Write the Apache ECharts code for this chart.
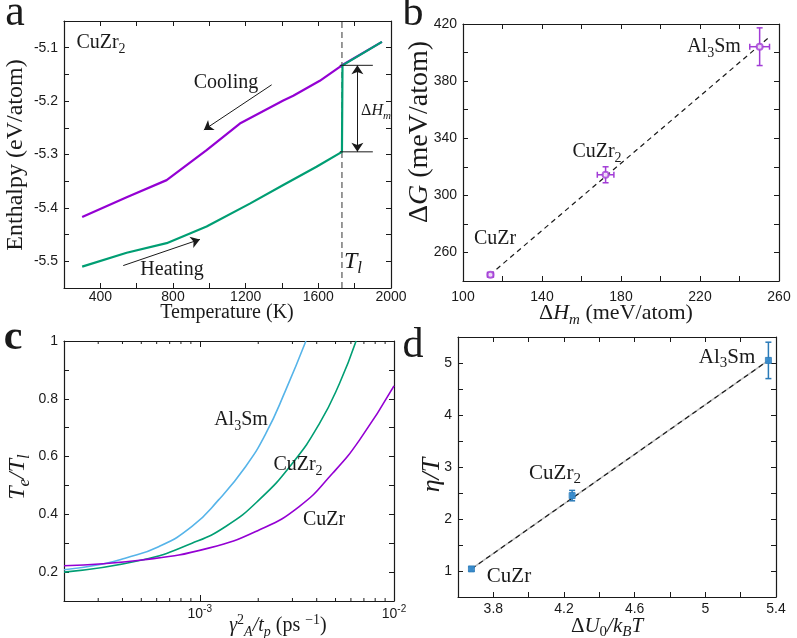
<!DOCTYPE html>
<html>
<head>
<meta charset="utf-8">
<script src="https://cdn.jsdelivr.net/npm/echarts@6/dist/echarts.min.js"></script>
<style>
  body { margin: 0; background: #fff; }
  #main { width: 797px; height: 638px; }
</style>
</head>
<body>
<div id="main"></div>
<script>
// ---- panel a: enthalpy of CuZr2 on cooling / heating
const coolT = [1950, 1730, 1608, 1462, 1407, 1168, 985, 765, 545, 300];
const coolH = [-5.089, -5.133, -5.162, -5.190, -5.199, -5.242, -5.292, -5.348, -5.380, -5.417];
const heatT = [300, 545, 765, 985, 1223, 1407, 1590, 1730, 1733, 1950];
const heatH = [-5.510, -5.484, -5.466, -5.435, -5.392, -5.357, -5.323, -5.295, -5.133, -5.089];
const meltT = 1730;          // T_l
const hLiquid = -5.133;
const hCrystal = -5.295;

// ---- panel b: dG vs dHm
const bX = [113.9, 172.2, 250.2];
const bY = [244.4, 314.4, 404.1];
const bXErr = [1.5, 4.2, 5.0];
const bYErr = [1.5, 5.6, 13.2];
const bFitX = [113.5, 255.3];
const bFitY = [244.2, 411.1];

// ---- panel c: Te/Tl vs gamma^2/tp (log x)
const alSmX = [2.0e-4, 3.13e-4, 4.13e-4, 6.14e-4, 9.12e-4, 1.25e-3, 1.72e-3, 2.19e-3, 2.77e-3, 3.52e-3];
const alSmY = [0.208, 0.227, 0.248, 0.288, 0.358, 0.45, 0.565, 0.68, 0.83, 1.0];
const cuZr2X = [2.0e-4, 5.04e-4, 9.12e-4, 1.36e-3, 2.02e-3, 3.00e-3, 4.13e-3, 5.24e-3, 6.38e-3];
const cuZr2Y = [0.2, 0.242, 0.3, 0.358, 0.45, 0.577, 0.714, 0.853, 1.0];
const cuZrX = [2.0e-4, 5.04e-4, 1.11e-3, 2.02e-3, 3.25e-3, 4.83e-3, 6.64e-3, 1.0e-2];
const cuZrY = [0.222, 0.242, 0.283, 0.346, 0.427, 0.542, 0.657, 0.845];
const cMinorTicks = [3e-4, 4e-4, 5e-4, 6e-4, 7e-4, 8e-4, 9e-4, 2e-3, 3e-3, 4e-3, 5e-3, 6e-3, 7e-3, 8e-3, 9e-3];

// ---- panel d: eta/T vs dU0/kBT
const dX = [3.676, 4.246, 5.357];
const dY = [1.04, 2.45, 5.05];
const dXErr = [0.008, 0.008, 0.008];
const dYErr = [0.04, 0.1, 0.35];
const dFitX = [3.676, 5.357];
const dFitY = [1.04, 5.05];

const PURPLE = '#9400d3', GREEN = '#009e73', SKY = '#56b4e9';
const BPURPLE = '#a23cd6', DBLUE = '#2a7ab8';
const INK = '#1a1a1a';
const SERIF = 'Liberation Serif', SANS = 'Liberation Sans';

const zip = (xs, ys) => xs.map((x, i) => [x, ys[i]]);

function axes(g, dir, min, max, interval, fmt, type, margin) {
  const common = {
    gridIndex: g, type: type || 'value', min: min, max: max,
    axisLine: {show: true, onZero: false, lineStyle: {color: INK, width: 1.2}},
    axisTick: {show: true, inside: true, length: 5, lineStyle: {color: INK, width: 1}},
    splitLine: {show: false}
  };
  if (interval) common.interval = interval;
  if (type === 'log') common.logBase = 10;
  const main = Object.assign({}, common, {
    position: dir === 'x' ? 'bottom' : 'left',
    axisLabel: {
      show: true, formatter: fmt, color: INK, fontFamily: SANS, fontSize: 14,
      margin: margin != null ? margin : (dir === 'x' ? 5 : 6), hideOverlap: false,
      showMinLabel: type !== 'log',
      rich: {
        b: {fontFamily: SANS, fontSize: 14, lineHeight: 20, color: INK},
        sp: {fontFamily: SANS, fontSize: 10, lineHeight: 10, verticalAlign: 'top', color: INK}
      }
    }
  });
  if (type === 'log') main.axisTick = Object.assign({}, common.axisTick, {length: 6});
  const mirror = Object.assign({}, common, {
    position: dir === 'x' ? 'top' : 'right', axisLabel: {show: false}
  });
  if (type === 'log') mirror.axisTick = main.axisTick;
  return [main, mirror];
}

const trim = v => String(parseFloat(v.toFixed(2)));

const xAxes = [].concat(
  axes(0, 'x', 200, 2000, 200, v => (Math.round(v) % 400 === 0 ? String(v) : ''), null, 2),
  axes(1, 'x', 100, 260, 20, v => ((Math.round(v) - 100) % 40 === 0 ? String(v) : ''), null, 9),
  axes(2, 'x', 2e-4, 1e-2, null, v => '{b|10}{sp|' + Math.round(Math.log10(v)) + '}', 'log', 3),
  axes(3, 'x', 3.6, 5.4, 0.2, v => (Math.round((v - 3.8) * 10) % 4 === 0 ? trim(v) : ''))
);
const yAxes = [].concat(
  axes(0, 'y', -5.55, -5.05, 0.05, v => (Math.round(v * 100) % 10 === 0 ? v.toFixed(1) : '')),
  axes(1, 'y', 240, 420, 20, v => ((Math.round(v) - 260) % 40 === 0 ? String(v) : '')),
  axes(2, 'y', 0.1, 1.0, 0.1, v => (Math.round(v * 10) % 2 === 0 ? trim(v) : '')),
  axes(3, 'y', 0.5, 5.5, 0.5, v => (Math.abs(v - Math.round(v)) < 1e-6 ? String(Math.round(v)) : ''))
);

function errBars(ai, xs, ys, exs, eys, color) {
  return {
    type: 'custom', xAxisIndex: ai, yAxisIndex: ai, z: 3, silent: true,
    data: xs.map((x, i) => [x, ys[i], exs[i], eys[i]]),
    renderItem: function (params, api) {
      const x = api.value(0), y = api.value(1), ex = api.value(2), ey = api.value(3);
      const l = api.coord([x - ex, y]), r = api.coord([x + ex, y]);
      const t = api.coord([x, y + ey]), b = api.coord([x, y - ey]);
      const c = 3, st = {stroke: color, lineWidth: 1.5};
      const L = (x1, y1, x2, y2) => ({type: 'line', shape: {x1, y1, x2, y2}, style: st});
      return {type: 'group', children: [
        L(l[0], l[1], r[0], r[1]), L(l[0], l[1] - c, l[0], l[1] + c), L(r[0], r[1] - c, r[0], r[1] + c),
        L(t[0], t[1], b[0], b[1]), L(t[0] - c, t[1], t[0] + c, t[1]), L(b[0] - c, b[1], b[0] + c, b[1])
      ]};
    }
  };
}

const plain = (ai, data, color, width, extra) => Object.assign({
  type: 'line', xAxisIndex: ai, yAxisIndex: ai, data: data, showSymbol: false, symbol: 'none',
  silent: true, lineStyle: {color: color, width: width}
}, extra || {});

const series = [
  // a
  plain(0, zip(coolT, coolH), PURPLE, 2.2, {z: 2}),
  plain(0, zip(heatT, heatH), GREEN, 2.2, {z: 3}),
  plain(0, [[meltT, -5.55], [meltT, -5.05]], '#555', 1.2, {lineStyle: {color: '#555', width: 1.2, type: [6, 4]}, z: 1}),
  plain(0, [[1718, hLiquid], [1900, hLiquid]], INK, 1, {z: 4}),
  plain(0, [[1718, hCrystal], [1900, hCrystal]], INK, 1, {
    z: 4,
    markLine: {
      silent: true, symbol: ['none', 'arrow'], symbolSize: 9, animation: false,
      label: {show: false}, lineStyle: {color: INK, width: 1, type: 'solid'},
      data: [
        [{coord: [1343, -5.1695]}, {coord: [970, -5.254]}],
        [{coord: [526, -5.508]}, {coord: [948, -5.459]}],
        [{coord: [1815, hLiquid], symbol: 'arrow'}, {coord: [1815, hCrystal]}]
      ]
    }
  }),
  // b
  plain(2, zip(bFitX, bFitY), INK, 1.2, {lineStyle: {color: INK, width: 1.2, type: [5, 4]}, z: 2}),
  errBars(2, bX, bY, bXErr, bYErr, BPURPLE),
  {type: 'scatter', xAxisIndex: 2, yAxisIndex: 2, data: zip(bX, bY), symbol: 'emptyCircle', symbolSize: 6,
   itemStyle: {color: BPURPLE, borderColor: BPURPLE, borderWidth: 1.2}, z: 4, silent: true},
  // c
  plain(4, zip(alSmX, alSmY), SKY, 1.6, {smooth: true}),
  plain(4, zip(cuZr2X, cuZr2Y), GREEN, 1.6, {smooth: true}),
  plain(4, zip(cuZrX, cuZrY), PURPLE, 1.6, {smooth: true}),
  {
    type: 'custom', xAxisIndex: 4, yAxisIndex: 4, silent: true, clip: false,
    data: cMinorTicks.map(v => [v, 0.1]),
    renderItem: function (params, api) {
      const b = api.coord([api.value(0), 0.1]);
      const t = api.coord([api.value(0), 1.0]);
      const st = {stroke: INK, lineWidth: 1};
      return {type: 'group', children: [
        {type: 'line', shape: {x1: b[0], y1: b[1], x2: b[0], y2: b[1] - 3}, style: st},
        {type: 'line', shape: {x1: t[0], y1: t[1], x2: t[0], y2: t[1] + 3}, style: st}
      ]};
    }
  },
  // d
  plain(6, zip(dFitX, dFitY), '#bbbbbb', 1.4, {z: 1}),
  plain(6, zip(dFitX, dFitY), INK, 1.2, {lineStyle: {color: INK, width: 1.2, type: [5, 4]}, z: 2}),
  errBars(6, dX, dY, dXErr, dYErr, DBLUE),
  {type: 'scatter', xAxisIndex: 6, yAxisIndex: 6, data: zip(dX, dY), symbol: 'rect', symbolSize: 6,
   itemStyle: {color: '#3b8fd0', borderColor: DBLUE, borderWidth: 1}, z: 4, silent: true}
];

function rich(size) {
  const sub = Math.round(size * 0.7);
  const lh = Math.round(size * 1.3);
  return {
    n: {fontFamily: SERIF, fontSize: size, lineHeight: lh, color: INK},
    i: {fontFamily: SERIF, fontSize: size, fontStyle: 'italic', lineHeight: lh, color: INK},
    sb: {fontFamily: SERIF, fontSize: sub, lineHeight: sub, verticalAlign: 'bottom', color: INK},
    sbi: {fontFamily: SERIF, fontSize: sub, fontStyle: 'italic', lineHeight: sub, verticalAlign: 'bottom', color: INK},
    sp: {fontFamily: SERIF, fontSize: sub, lineHeight: sub, verticalAlign: 'top', color: INK}
  };
}

function txt(x, y, text, size, rot, weight) {
  return {
    type: 'text', x: x, y: y, rotation: rot || 0, silent: true, z: 50,
    style: {
      text: text, fontFamily: SERIF, fontSize: size, fontWeight: weight || 'normal',
      fill: INK, align: 'center', verticalAlign: 'middle', rich: rich(size)
    }
  };
}

const R = Math.PI / 2;
const graphics = [
  // panel letters
  txt(15, 13, 'a', 44),
  txt(413, 14, 'b', 42),
  txt(13, 338, 'c', 42, 0, 'bold'),
  txt(413, 346, 'd', 42),
  // axis names
  txt(16, 155, 'Enthalpy (eV/atom)', 24, R),
  txt(227, 313, 'Temperature (K)', 20),
  txt(420, 132, '{n|Δ}{i|G}{n| (meV/atom)}', 28, R),
  txt(616, 313, '{n|Δ}{i|H}{sbi|m}{n| (meV/atom)}', 22),
  txt(18, 477, '{i|T}{sbi|e}{i|/T}{sbi|l}', 24, R),
  txt(278, 626, '{i|γ}{sp|2}{sbi|A}{i|/t}{sbi|p}{n| (ps }{sp|−1}{n|)}', 20),
  txt(432, 475, '{i|η/T}', 26, R),
  txt(607, 626, '{n|Δ}{i|U}{sb|0}{i|/k}{sbi|B}{i|T}', 21),
  // annotations a
  txt(101, 43, '{n|CuZr}{sb|2}', 20),
  txt(226, 83, 'Cooling', 20),
  txt(172, 270, 'Heating', 20),
  txt(376, 111, '{n|Δ}{i|H}{sbi|m}', 16),
  txt(353, 262, '{i|T}{sbi|l}', 24),
  // annotations b
  txt(714, 47, '{n|Al}{sb|3}{n|Sm}', 20),
  txt(597, 152, '{n|CuZr}{sb|2}', 20),
  txt(495, 239, '{n|CuZr}', 20),
  // annotations c
  txt(241, 420, '{n|Al}{sb|3}{n|Sm}', 20),
  txt(298, 465, '{n|CuZr}{sb|2}', 20),
  txt(324, 520, '{n|CuZr}', 20),
  // annotations d
  txt(727, 357, '{n|Al}{sb|3}{n|Sm}', 21),
  txt(555, 473, '{n|CuZr}{sb|2}', 21),
  txt(509, 576, '{n|CuZr}', 21)
];

const chart = echarts.init(document.getElementById('main'), null, {renderer: 'canvas'});
chart.setOption({
  animation: false,
  backgroundColor: '#ffffff',
  grid: [
    {left: 64, top: 21, width: 327, height: 267},
    {left: 463, top: 24, width: 316, height: 257},
    {left: 64, top: 341, width: 330, height: 260},
    {left: 458, top: 337, width: 318, height: 260}
  ],
  xAxis: xAxes,
  yAxis: yAxes,
  series: series,
  graphic: graphics
});
</script>
</body>
</html>
